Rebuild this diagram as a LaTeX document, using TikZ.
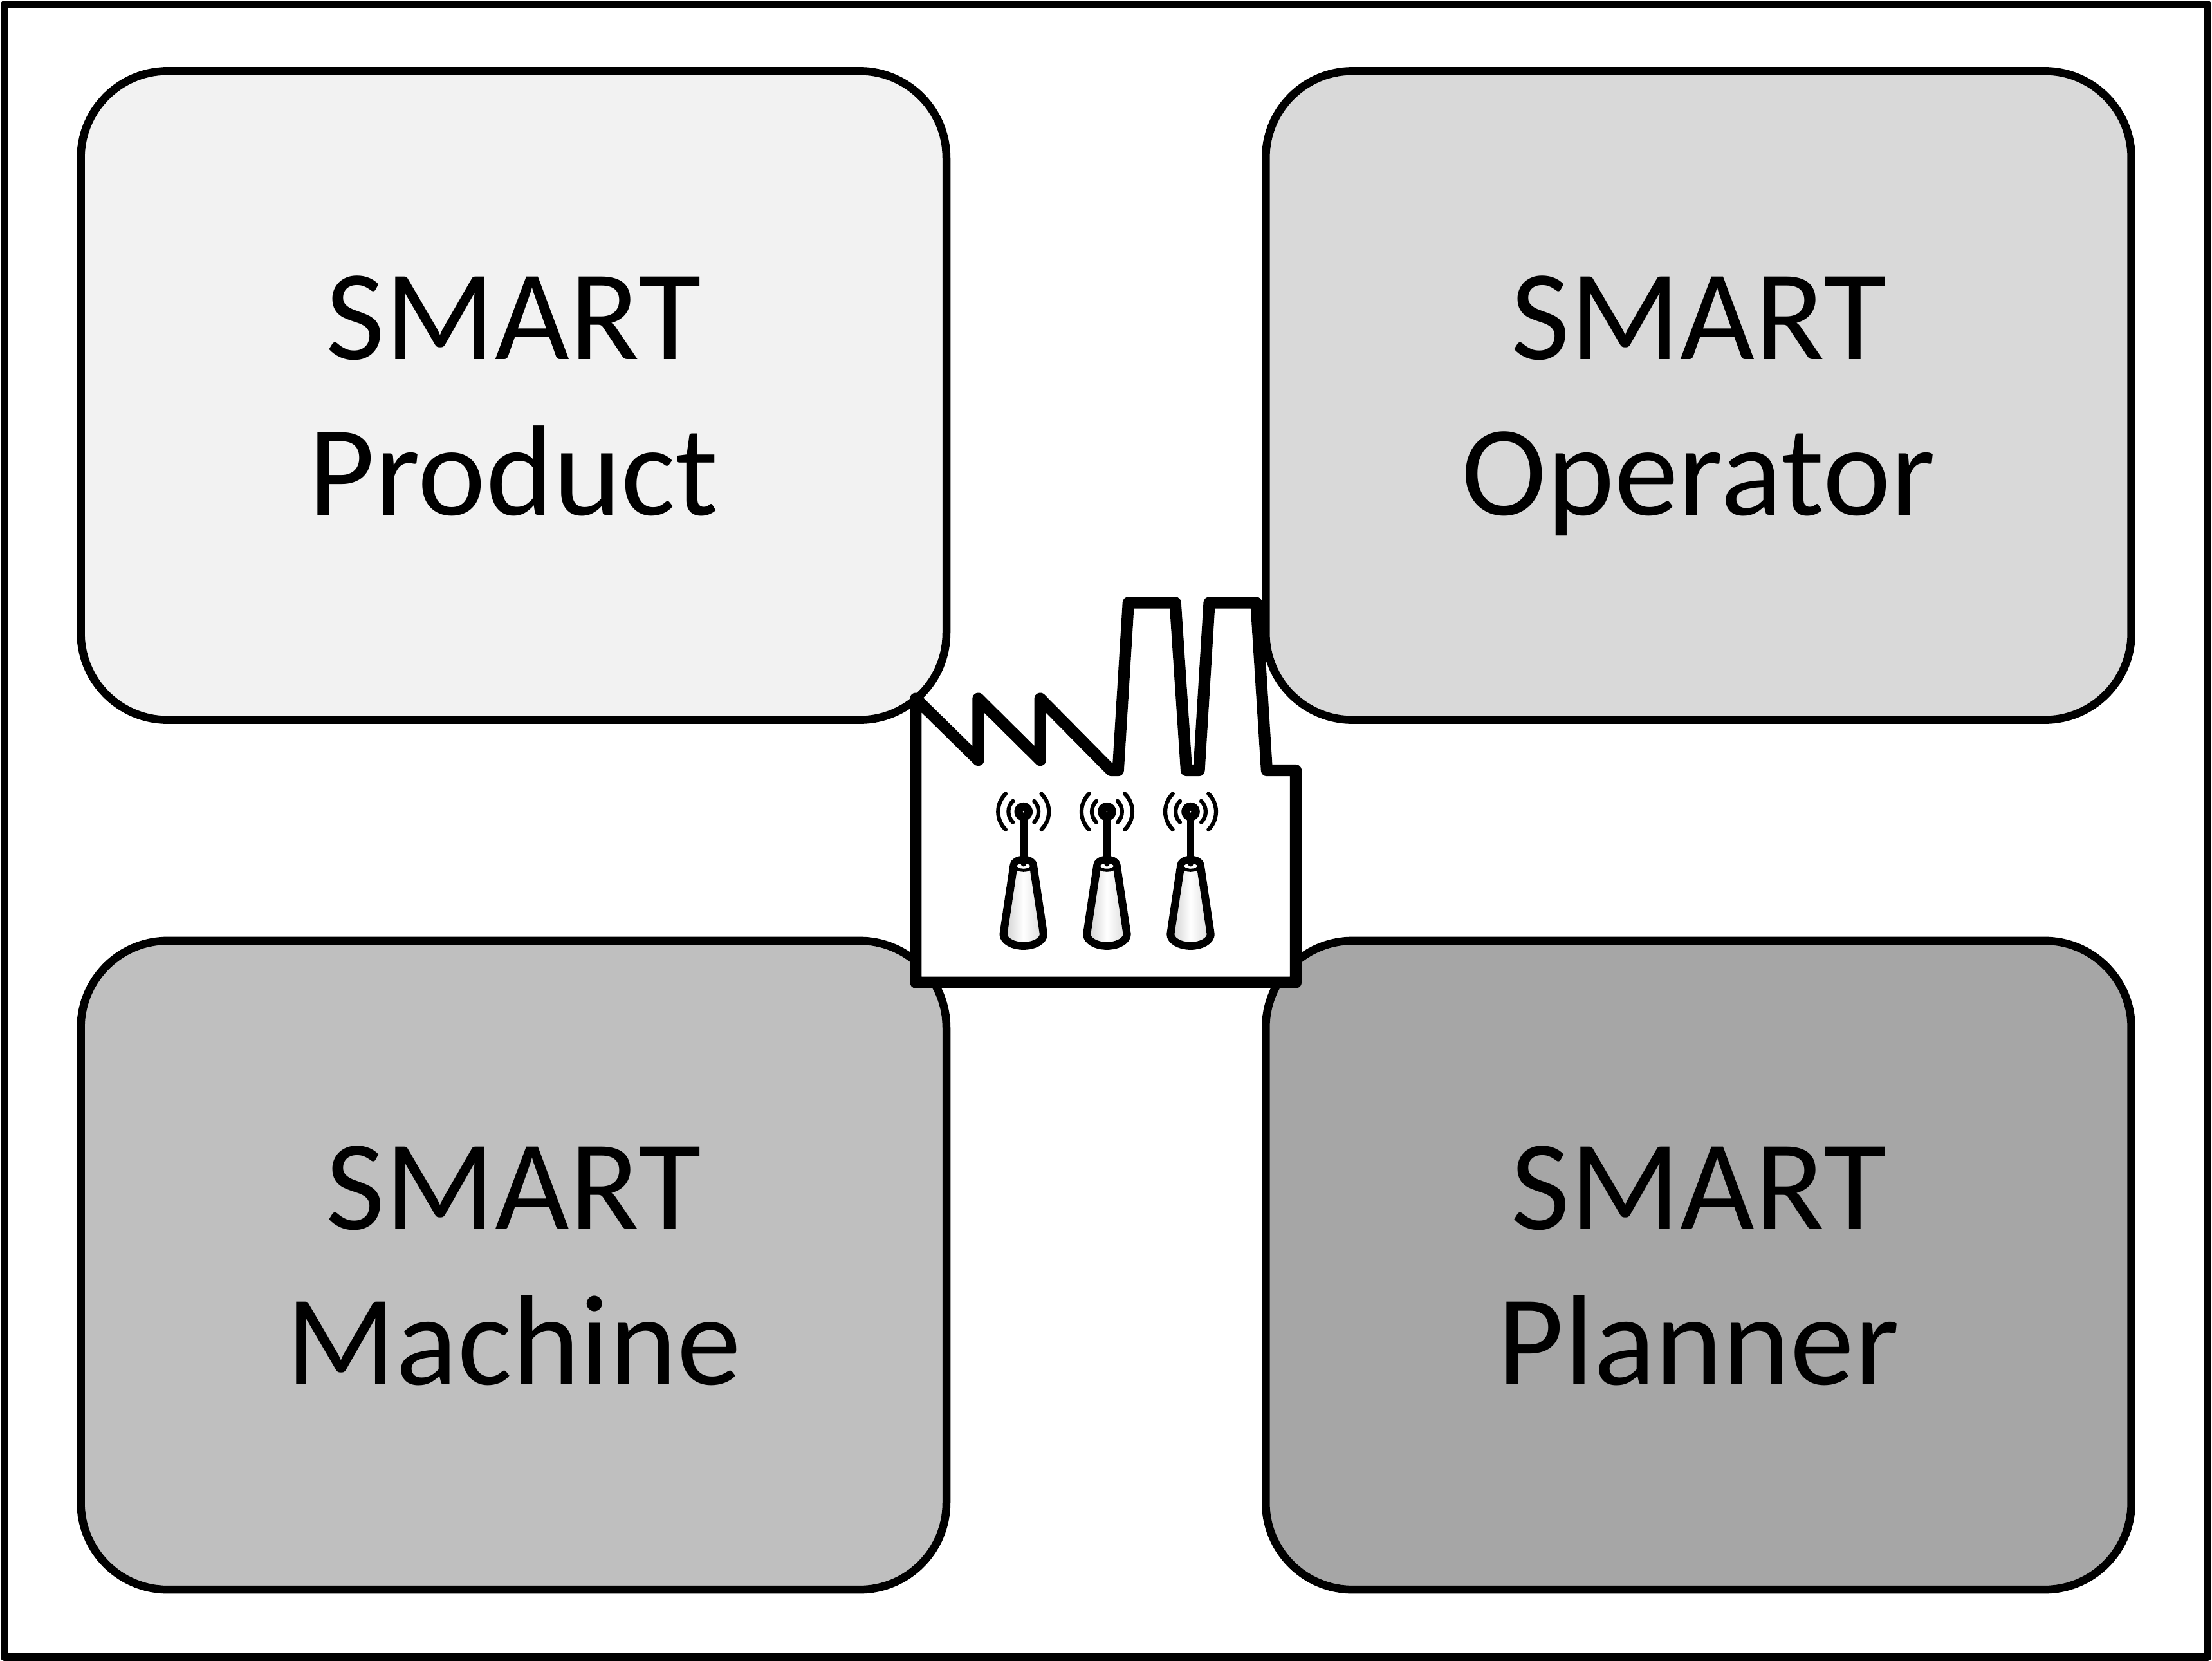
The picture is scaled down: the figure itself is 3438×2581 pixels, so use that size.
\documentclass[tikz,border=0pt]{standalone}
\usepackage{fontspec}
\setmainfont{Carlito}
\newcommand{\smarthead}{\rule{0pt}{39pt}SMART}
\tikzset{
  smartbox/.style={draw=black,line width=3pt,rounded corners=32.4pt,minimum width=322.9pt,minimum height=242pt,inner sep=0pt,align=center,
    font=\fontsize{48}{58}\selectfont},
  factoryline/.style={draw=black,line width=4.37pt,line join=round,line cap=round},
  stem/.style={line width=2.8pt},
  body/.style={draw=black,line width=2.9pt,line join=round},
  wave/.style={draw=black,line width=1.5pt,line cap=round}
}
\begin{document}
\begin{tikzpicture}[x=0.24pt,y=-0.24pt]
\useasboundingbox (0,0) rectangle (3438,2581);
\draw[black,line width=2.9pt,line join=round,fill=white] (7,7) rectangle (3431,2575);
\node[smartbox,fill={rgb,255:red,242;green,242;blue,242}] (product) at (798.3,614.5) {\smarthead\\Product\vphantom{p}};
\node[smartbox,fill={rgb,255:red,217;green,217;blue,217}] (operator) at (2640,614.5) {\smarthead\\Operator\vphantom{p}};
\node[smartbox,fill={rgb,255:red,191;green,191;blue,191}] (machine) at (798.3,1966) {\smarthead\\Machine\vphantom{p}};
\node[smartbox,fill={rgb,255:red,166;green,166;blue,166}] (planner) at (2640,1966) {\smarthead\\Planner\vphantom{p}};
\begin{scope}[shift={(1380,900)},scale=0.43365]
\draw[factoryline,fill=white] (100,428) -- (324,648) -- (324,428) -- (546,648) -- (546,428) -- (800,685) -- (825,685) -- (862,84) -- (1030,84) -- (1070,685) -- (1115,685) -- (1152,84) -- (1320,84) -- (1358,685) -- (1462,685) -- (1462,1445) -- (100,1445) -- cycle;
\foreach \cx in {486,785,1085}{
\begin{scope}[shift={(\cx,0)}]
  \draw[body,left color=black!20,right color=black!15,middle color=white]
    (-35,1025) .. controls (-35,1014) and (-19,1005) .. (0,1005) .. controls (19,1005) and (35,1014) .. (35,1025)
    -- (72,1272) .. controls (72,1295) and (40,1314) .. (0,1314) .. controls (-40,1314) and (-72,1295) .. (-72,1272) -- cycle;
  \draw[black,line width=1.2pt,fill=white] (-30,1027) .. controls (-30,1020) and (-16,1012) .. (0,1012) .. controls (16,1012) and (30,1020) .. (30,1027) .. controls (30,1036) and (16,1043) .. (0,1043) .. controls (-16,1043) and (-30,1036) .. (-30,1027) -- cycle;
  \fill[black] (-9,1010) -- (9,1010) -- (9,1022) .. controls (9,1032) and (-9,1032) .. (-9,1022) -- cycle;
  \draw[stem] (0,833) -- (0,1008);
  \fill[black] (0,833) circle[radius=33];
  \fill[white] (0,833) circle[radius=3];
  \draw[wave] (-38,795) .. controls (-59.3,816) and (-59.3,850) .. (-38,871);
  \draw[wave] (38,795) .. controls (59.3,816) and (59.3,850) .. (38,871);
  \draw[wave] (-64,769) .. controls (-100,804) and (-100,862) .. (-64,897);
  \draw[wave] (64,769) .. controls (100,804) and (100,862) .. (64,897);
\end{scope}
}
\end{scope}
\end{tikzpicture}
\end{document}
